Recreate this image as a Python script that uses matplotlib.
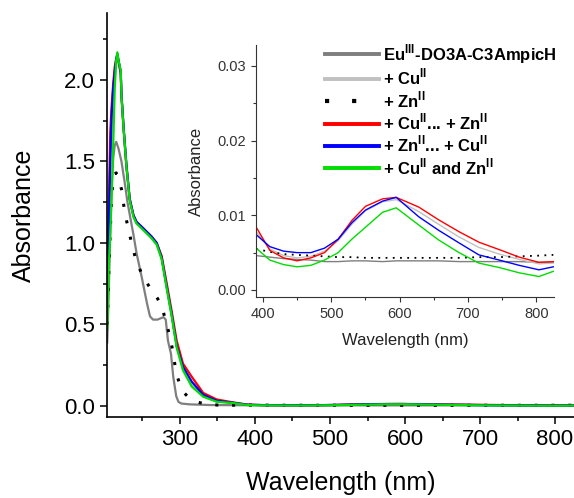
import numpy as np
import matplotlib
matplotlib.use("Agg")
import matplotlib.pyplot as plt
from matplotlib.ticker import MultipleLocator
from matplotlib.lines import Line2D

plt.rcParams['font.family'] = ['Liberation Sans', 'DejaVu Sans']
plt.rcParams['mathtext.fontset'] = 'custom'
plt.rcParams['mathtext.rm'] = 'Liberation Sans'
plt.rcParams['mathtext.bf'] = 'Liberation Sans:bold'

# --- visible region (inset), shared wavelength grid ---
vis_wl = [390, 410, 430, 450, 470, 490, 510, 530, 550, 575, 595, 628, 657, 687, 716, 746, 775, 804, 825]
vis_eu = [0.0046, 0.0044, 0.0042, 0.0041, 0.0040, 0.0038, 0.0038, 0.0039, 0.0039, 0.0038, 0.0039,
          0.0039, 0.0039, 0.0038, 0.0038, 0.0038, 0.0038, 0.0037, 0.0037]
vis_cu = [0.0078, 0.0055, 0.0046, 0.0043, 0.0045, 0.0052, 0.0066, 0.0088, 0.0106, 0.0118, 0.0121,
          0.0105, 0.0088, 0.0071, 0.0057, 0.0048, 0.0041, 0.0035, 0.0036]
vis_zn = [0.0055, 0.0051, 0.0048, 0.0047, 0.0046, 0.0045, 0.0044, 0.0044, 0.0043, 0.0043, 0.0043,
          0.0043, 0.0043, 0.0043, 0.0044, 0.0044, 0.0045, 0.0046, 0.0047]
vis_cu_zn = [0.0084, 0.0053, 0.0043, 0.0039, 0.0043, 0.0050, 0.0068, 0.0093, 0.0112, 0.0122, 0.0124,
             0.0111, 0.0094, 0.0078, 0.0064, 0.0054, 0.0044, 0.0037, 0.0038]
vis_zn_cu = [0.0074, 0.0058, 0.0052, 0.0050, 0.0050, 0.0056, 0.0068, 0.0090, 0.0107, 0.0119, 0.0124,
             0.0098, 0.0080, 0.0063, 0.0047, 0.0040, 0.0033, 0.0027, 0.0031]
vis_both = [0.0056, 0.0040, 0.0034, 0.0031, 0.0033, 0.0040, 0.0050, 0.0068, 0.0084, 0.0104, 0.0110,
            0.0087, 0.0067, 0.0050, 0.0036, 0.0030, 0.0023, 0.0018, 0.0025]

# --- UV region (main plot) ---
eu_wl = [203, 205, 207, 209, 211, 213, 215, 218, 222, 226, 230, 234, 238, 242, 249, 256, 260, 264,
         270, 278, 281, 284, 288, 291, 295, 298, 302, 313, 340, 370]
eu_abs = [0.39, 0.70, 1.05, 1.35, 1.52, 1.60, 1.62, 1.58, 1.50, 1.38, 1.25, 1.15, 1.05, 0.94, 0.79,
          0.63, 0.55, 0.53, 0.53, 0.545, 0.53, 0.40, 0.32, 0.18, 0.06, 0.025, 0.015, 0.01, 0.006, 0.005]

zn_wl = [203, 206, 209, 212, 215, 218, 222, 226, 230, 235, 241, 250, 258, 264, 270, 276, 281, 287,
         291, 295, 300, 304, 312, 322, 335, 350, 370]
zn_abs = [0.50, 0.95, 1.30, 1.42, 1.43, 1.40, 1.33, 1.20, 1.11, 1.01, 0.90, 0.80, 0.74, 0.70, 0.66,
          0.61, 0.52, 0.42, 0.32, 0.20, 0.13, 0.088, 0.05, 0.026, 0.01, 0.006, 0.005]

uv_wl = [203, 205, 207, 209, 211, 213, 215, 216.5, 218, 221, 222, 225, 228.6, 233, 238, 242, 251,
         262, 269, 275.6, 282, 289, 295.6, 304, 315.6, 331, 349, 371]
cu_zn_abs = [0.69, 1.20, 1.68, 1.85, 1.98, 2.08, 2.13, 2.15, 2.12, 2.04, 1.90, 1.69, 1.47, 1.27, 1.17,
             1.13, 1.09, 1.04, 1.00, 0.92, 0.76, 0.58, 0.40, 0.26, 0.18, 0.08, 0.04, 0.022]
zn_cu_abs = [0.78, 1.10, 1.50, 1.80, 1.95, 2.05, 2.13, 2.16, 2.12, 2.05, 1.91, 1.70, 1.48, 1.27, 1.17,
             1.13, 1.09, 1.04, 1.00, 0.91, 0.74, 0.56, 0.37, 0.24, 0.15, 0.068, 0.032, 0.02]
cu_abs = [0.60, 0.95, 1.30, 1.60, 1.85, 2.00, 2.10, 2.14, 2.11, 2.04, 1.90, 1.69, 1.47, 1.26, 1.16,
          1.12, 1.08, 1.03, 0.99, 0.90, 0.73, 0.55, 0.36, 0.22, 0.13, 0.06, 0.028, 0.018]
both_abs = [0.47, 0.85, 1.05, 1.30, 1.60, 1.95, 2.12, 2.17, 2.12, 2.06, 1.90, 1.69, 1.47, 1.26, 1.16,
            1.12, 1.08, 1.03, 0.99, 0.90, 0.73, 0.55, 0.36, 0.22, 0.12, 0.057, 0.026, 0.018]

labels = [r'Eu$^{\mathbf{III}}$-DO3A-C3AmpicH', r'+ Cu$^{\mathbf{II}}$', r'+ Zn$^{\mathbf{II}}$',
          r'+ Cu$^{\mathbf{II}}$... + Zn$^{\mathbf{II}}$', r'+ Zn$^{\mathbf{II}}$... + Cu$^{\mathbf{II}}$',
          r'+ Cu$^{\mathbf{II}}$ and Zn$^{\mathbf{II}}$']
colors = ['#7f7f7f', '#c0c0c0', 'black', '#ff0000', '#0000ff', '#00dd00']

main_series = [
    (eu_wl + vis_wl, eu_abs + vis_eu),
    (uv_wl + vis_wl, cu_abs + vis_cu),
    (zn_wl + vis_wl, zn_abs + vis_zn),
    (uv_wl + vis_wl, cu_zn_abs + vis_cu_zn),
    (uv_wl + vis_wl, zn_cu_abs + vis_zn_cu),
    (uv_wl + vis_wl, both_abs + vis_both),
]
vis_series = [vis_eu, vis_cu, vis_zn, vis_cu_zn, vis_zn_cu, vis_both]

fig = plt.figure(figsize=(5.74, 4.98), dpi=100)
ax = fig.add_axes([107/574, 1 - 417/498, 467/574, 404/498])
for (x, y), c in zip(main_series, colors):
    if c == 'black':
        ax.plot(x, y, color=c, lw=2.2, ls=(0, (1, 4.5)))
    else:
        ax.plot(x, y, color=c, lw=1.6)

ax.set_xlim(202.7, 825.3)
ax.set_ylim(-0.0675, 2.411)
ax.xaxis.set_major_locator(MultipleLocator(100))
ax.xaxis.set_minor_locator(MultipleLocator(50))
ax.yaxis.set_major_locator(MultipleLocator(0.5))
ax.yaxis.set_minor_locator(MultipleLocator(0.25))
ax.spines[['top', 'right']].set_visible(False)
for s in ['left', 'bottom']:
    ax.spines[s].set_linewidth(1.2)
ax.tick_params(which='major', length=5, width=1.1, labelsize=16)
ax.tick_params(which='minor', length=3, width=1.1)
ax.set_xlabel('Wavelength (nm)', fontsize=18, labelpad=15)
ax.set_ylabel('Absorbance', fontsize=18, labelpad=20)

axin = fig.add_axes([256/574, 1 - 297/498, 298/574, 252/498])
for y, c in zip(vis_series, colors):
    if c == 'black':
        axin.plot(vis_wl, y, color=c, lw=1.3, ls=(0, (1, 3)))
    else:
        axin.plot(vis_wl, y, color=c, lw=1.0)
axin.set_xlim(389.7, 826)
axin.set_ylim(-0.00094, 0.0328)
axin.xaxis.set_major_locator(MultipleLocator(100))
axin.xaxis.set_minor_locator(MultipleLocator(50))
axin.yaxis.set_major_locator(MultipleLocator(0.01))
axin.yaxis.set_minor_locator(MultipleLocator(0.005))
axin.yaxis.set_major_formatter(plt.FormatStrFormatter('%.2f'))
axin.spines[['top', 'right']].set_visible(False)
for s in ['left', 'bottom']:
    axin.spines[s].set_color('#333333')
    axin.spines[s].set_linewidth(0.8)
axin.tick_params(which='major', length=3.5, width=0.8, labelsize=10.5, colors='#333333')
axin.tick_params(which='minor', length=2, width=0.8, colors='#333333')
axin.set_xlabel('Wavelength (nm)', fontsize=12, color='#222222', labelpad=9)
axin.set_ylabel('Absorbance', fontsize=12, color='#222222', labelpad=10)

handles = []
for c in colors:
    if c == 'black':
        handles.append(Line2D([], [], color=c, lw=3, ls=(0, (1, 5.5))))
    else:
        handles.append(Line2D([], [], color=c, lw=2.8))
leg = fig.legend(handles, labels, loc='upper left', bbox_to_anchor=(325/574, 1 - 42/498),
                 bbox_transform=fig.transFigure, frameon=False, borderpad=0, borderaxespad=0,
                 handlelength=3.25, handletextpad=0.25, labelspacing=0.1,
                 prop={'weight': 'bold', 'size': 12})

fig.savefig('out.png', dpi=100)
